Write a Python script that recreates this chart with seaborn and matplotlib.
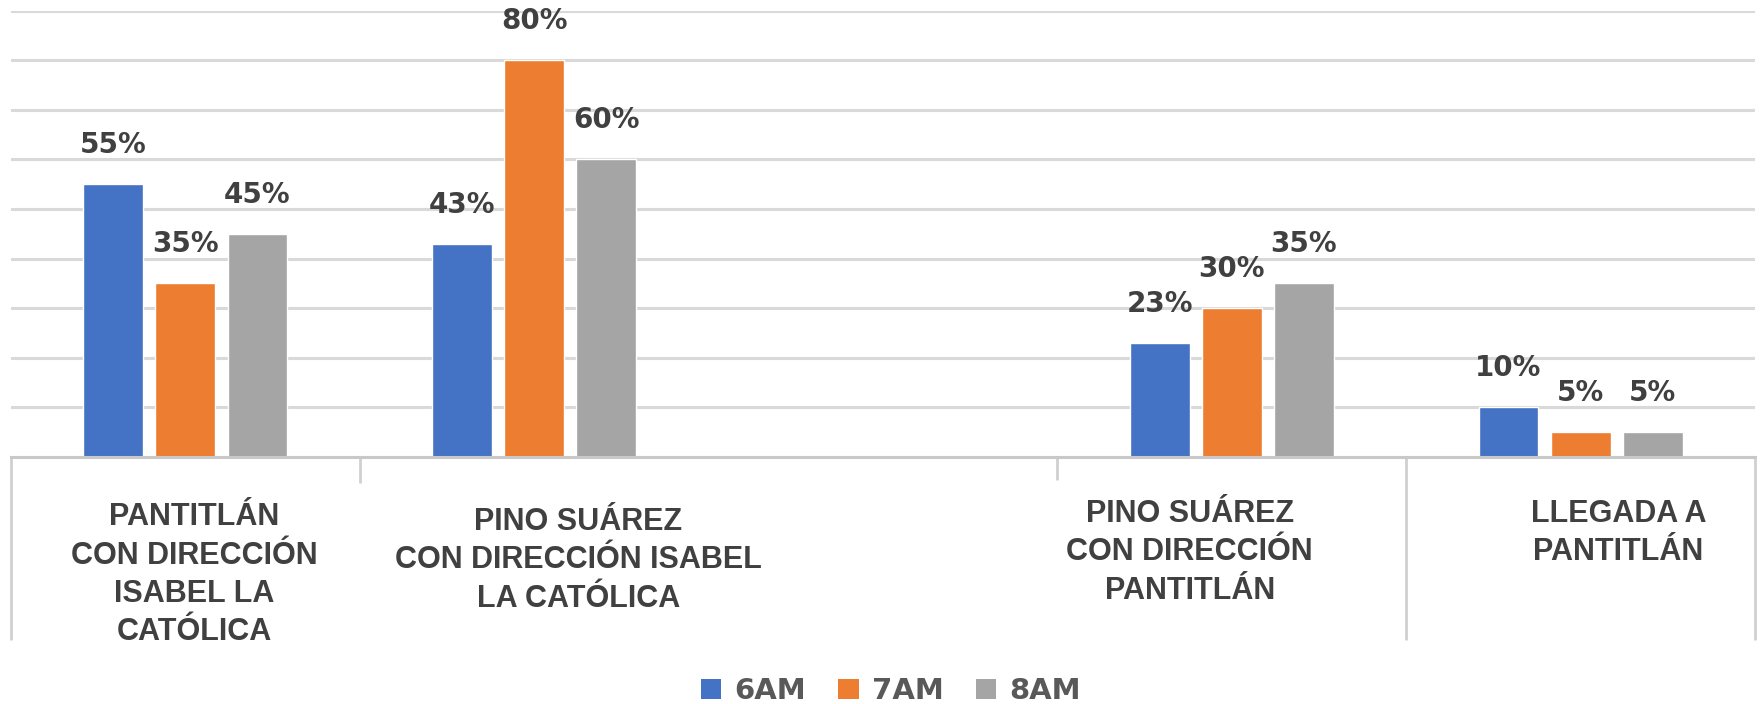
import matplotlib
matplotlib.use("Agg")
import matplotlib.pyplot as plt
import matplotlib.transforms as mtransforms
from matplotlib.patches import Patch
import seaborn as sns
import pandas as pd

# ---------------- data ----------------
categories = [
    "PANTITLÁN CON DIRECCIÓN ISABEL LA CATÓLICA",
    "PINO SUÁREZ CON DIRECCIÓN ISABEL LA CATÓLICA",
    "",
    "PINO SUÁREZ CON DIRECCIÓN PANTITLÁN",
    "LLEGADA A PANTITLÁN",
]
category_lines = [
    ["PANTITLÁN", "CON DIRECCIÓN", "ISABEL LA", "CATÓLICA"],
    ["PINO SUÁREZ", "CON DIRECCIÓN ISABEL", "LA CATÓLICA"],
    [],
    ["PINO SUÁREZ", "CON DIRECCIÓN", "PANTITLÁN"],
    ["LLEGADA A", "PANTITLÁN"],
]
series = ["6AM", "7AM", "8AM"]
values_6am = [55, 43, None, 23, 10]
values_7am = [35, 80, None, 30, 5]
values_8am = [45, 60, None, 35, 5]
colors = ["#4472C4", "#ED7D31", "#A5A5A5"]

rows = []
for name, vals in zip(series, [values_6am, values_7am, values_8am]):
    for cat, v in zip(categories, vals):
        if v is not None:
            rows.append({"category": cat, "hour": name, "value": v})
df = pd.DataFrame(rows)

# ---------------- figure ----------------
sns.set_theme(style="white")
W, H, DPI = 1763, 704, 100
fig = plt.figure(figsize=(W / DPI, H / DPI), dpi=DPI)
fig.patch.set_facecolor("white")

ax_left, ax_right, ax_bottom_px, ax_top_px = 11, 1755, 457, 10.6
ax = fig.add_axes([ax_left / W, (H - ax_bottom_px) / H,
                   (ax_right - ax_left) / W, (ax_bottom_px - ax_top_px) / H])

sns.barplot(data=df, x="category", y="value", hue="hour", order=categories,
            hue_order=series, palette=colors, width=0.62, gap=0.17,
            saturation=1, ax=ax, legend=False)

ax.set_xlim(-0.5, len(categories) - 0.5)
ax.set_ylim(0, 90)
ax.set_yticks(range(0, 100, 10))
ax.grid(axis="y", color="#d9d9d9", linewidth=2.2)
ax.grid(axis="x", visible=False)
ax.set_axisbelow(True)
for s in ["left", "right", "top"]:
    ax.spines[s].set_visible(False)
ax.spines["bottom"].set_color("#c8c8c8")
ax.spines["bottom"].set_linewidth(2.2)
ax.tick_params(left=False, labelleft=False, bottom=False, labelbottom=False)
ax.set_xlabel("")
ax.set_ylabel("")
ax.set_xticks([])

# value labels
for cont in ax.containers:
    labels = [f"{v:.0f}%" for v in cont.datavalues]
    ax.bar_label(cont, labels=labels, padding=18, fontsize=20,
                 fontweight="bold", color="#404040", family="DejaVu Sans")

# separators between categories (extend below axis)
xt = ax.get_xaxis_transform()
axes_h_px = ax_bottom_px - ax_top_px
bounds = [i - 0.5 for i in range(len(categories) + 1)]
sep_len_px = [183, 26, 0, 23, 183, 183]
for b, L in zip(bounds, sep_len_px):
    if L > 0:
        ax.plot([b, b], [0, -L / axes_h_px], transform=xt, color="#d0d0d0",
                linewidth=2, clip_on=False, solid_capstyle="butt")

# category labels
dx_px = [9, 44, 0, -42, 38]
dy_px = [68, 73, 0, 65, 65]
step_px = 38.5
for i, lines in enumerate(category_lines):
    for j, line in enumerate(lines):
        off = mtransforms.ScaledTranslation(dx_px[i] / DPI,
                                            -(dy_px[i] + j * step_px) / DPI,
                                            fig.dpi_scale_trans)
        ax.text(i, 0, line, transform=xt + off, ha="center", va="baseline",
                fontsize=22, fontweight="bold", color="#404040",
                family=["Liberation Sans", "DejaVu Sans"])

# legend
handles = [Patch(facecolor=c, edgecolor="none") for c in colors]
leg = fig.legend(handles, series, loc="center", bbox_to_anchor=(891 / W, 13 / H),
                 ncol=3, frameon=False, handlelength=0.7, handleheight=0.7,
                 handletextpad=0.45, columnspacing=1.1, borderpad=0.1,
                 prop=dict(family="DejaVu Sans", weight="bold", size=21))
for t in leg.get_texts():
    t.set_color("#595959")

fig.savefig("out.png", dpi=DPI, facecolor="white")
